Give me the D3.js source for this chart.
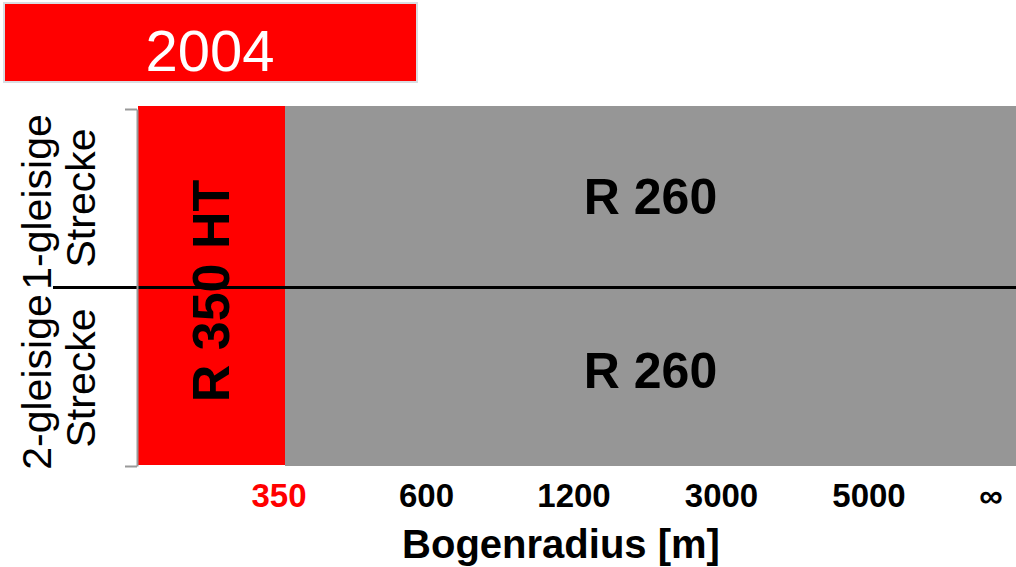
<!DOCTYPE html>
<html>
<head>
<meta charset="utf-8">
<script src="https://cdn.jsdelivr.net/npm/d3@7"></script>
<style>
  html, body { margin: 0; padding: 0; background: #fff; }
  svg { display: block; font-family: "Liberation Sans", Arial, Helvetica, sans-serif; }
</style>
</head>
<body>
<svg id="chart" width="1016" height="567"></svg>
<script>
// Curve radius classes (x) and track types (rows)
const yearLabel = "2004";
const radiusTicks = ["350", "600", "1200", "3000", "5000", "\u221E"];
const trackTypes = [["1-gleisige", "Strecke"], ["2-gleisige", "Strecke"]];
// Segments along the radius axis, as tick indices (start, end)
const segStart = [-1, 0];
const segEnd = [0, 5];
const segLabels = ["R 350 HT", "R 260"];
const segColors = ["#ff0000", "#969696"];

const svg = d3.select("#chart");
const W = 1016;

// x: tick index -> pixel
const x = d3.scaleLinear().domain([-1, 5]).range([137, 1025]);
// y: track type bands
const y = d3.scaleBand().domain(trackTypes.map(d => d.join(" "))).range([106, 466]).padding(0);

// Title box
svg.append("rect").attr("x", 4).attr("y", 3).attr("width", 413).attr("height", 79)
  .attr("fill", "#ff0000").attr("stroke", "#d9dde2").attr("stroke-width", 2);
svg.append("text").attr("x", 210).attr("y", 71).attr("text-anchor", "middle")
  .attr("fill", "#fff").attr("font-size", 58).text(yearLabel);

// Gray segment per row
const rows = y.domain();
const rowLabelShift = [0, -6];
rows.forEach((r, i) => {
  svg.append("rect")
    .attr("x", x(segStart[1])).attr("y", y(r))
    .attr("width", Math.min(x(segEnd[1]), W) - x(segStart[1]))
    .attr("height", y.bandwidth())
    .attr("fill", segColors[1]);
  svg.append("text")
    .attr("x", (x(segStart[1]) + Math.min(x(segEnd[1]), W)) / 2)
    .attr("y", y(r) + y.bandwidth() / 2 + rowLabelShift[i])
    .attr("dy", "0.36em")
    .attr("text-anchor", "middle").attr("font-weight", "bold").attr("font-size", 50)
    .attr("fill", "#000").text(segLabels[1]);
});

// Red segment spanning both rows
const y0 = y.range()[0], y1 = y.range()[1];
svg.append("rect")
  .attr("x", x(segStart[0]) + 1).attr("y", y0)
  .attr("width", x(segEnd[0]) - x(segStart[0]) - 1).attr("height", y1 - y0 - 1)
  .attr("fill", segColors[0]);
const rcx = (x(segStart[0]) + x(segEnd[0])) / 2 - 1;
svg.append("text")
  .attr("transform", `translate(${rcx},${(y0 + y1) / 2 + 5}) rotate(-90)`)
  .attr("dy", "0.36em")
  .attr("text-anchor", "middle").attr("font-weight", "bold").attr("font-size", 52)
  .attr("fill", "#000").text(segLabels[0]);

// Row separator
svg.append("line")
  .attr("x1", 53).attr("x2", W)
  .attr("y1", y(rows[1]) + 1.5).attr("y2", y(rows[1]) + 1.5)
  .attr("stroke", "#000").attr("stroke-width", 3);

// Left axis
const yAxisScale = d3.scaleLinear().domain([0, 1]).range([466, 109]);
const yAxis = svg.append("g").attr("transform", "translate(137,0)")
  .call(d3.axisLeft(yAxisScale).tickValues([0, 1]).tickFormat("").tickSize(12).tickSizeOuter(0));
yAxis.selectAll("path, line").attr("stroke", "#999").attr("stroke-width", 2);

// Row labels
rows.forEach((r, i) => {
  const t = svg.append("text")
    .attr("transform", `translate(0,${y(r) + y.bandwidth() / 2 + 2}) rotate(-90)`)
    .attr("text-anchor", "middle").attr("font-size", 41).attr("fill", "#000");
  t.append("tspan").attr("x", -4).attr("y", 51).text(trackTypes[i][0]);
  t.append("tspan").attr("x", 0).attr("y", 95).text(trackTypes[i][1]);
});

// Radius tick labels
radiusTicks.forEach((d, i) => {
  svg.append("text")
    .attr("x", x(i) - (i === radiusTicks.length - 1 ? 34 : 6 + i * 0.5))
    .attr("y", 507)
    .attr("text-anchor", "middle").attr("font-weight", "bold").attr("font-size", 33)
    .attr("fill", i === 0 ? "#ff0000" : "#000").text(d);
});

// Axis title
svg.append("text").attr("x", 561).attr("y", 558).attr("text-anchor", "middle")
  .attr("font-weight", "bold").attr("font-size", 40).attr("fill", "#000").text("Bogenradius [m]");
</script>
</body>
</html>
